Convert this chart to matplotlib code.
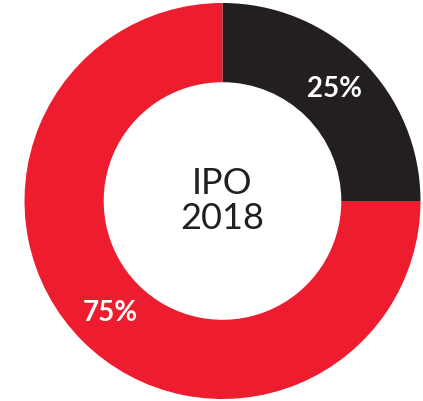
import matplotlib
matplotlib.use("Agg")
import matplotlib.pyplot as plt

labels = ["Other", "IPO"]
shares = [25, 75]
colors = ["#231f20", "#ed1c2e"]
center_text = "IPO\n2018"


def _main():
    fig = plt.figure(figsize=(4.23, 4.01), dpi=100)
    ax = fig.add_axes([24.5 / 423, 2 / 401, 396 / 423, 396 / 401])

    wedges, _, autotexts = ax.pie(
        shares, colors=colors, startangle=90, counterclock=False,
        radius=1.0, wedgeprops=dict(width=0.4, linewidth=0),
        autopct=lambda p: f"{p:.0f}%", pctdistance=0.8,
    )
    for t in autotexts:
        t.set_color("white")
        t.set_fontsize(20)
        t.set_fontweight("bold")
        t.set_family("Lato")

    ax.text(0, 0, center_text, ha="center", va="center", fontsize=26,
            family="Lato", color="#231f20", linespacing=1.1)

    ax.set_xlim(-1, 1)
    ax.set_ylim(-1, 1)
    ax.set_aspect("equal")
    ax.axis("off")
    fig.savefig("out.png", dpi=100)


if __name__ == "__main__":
    _main()
